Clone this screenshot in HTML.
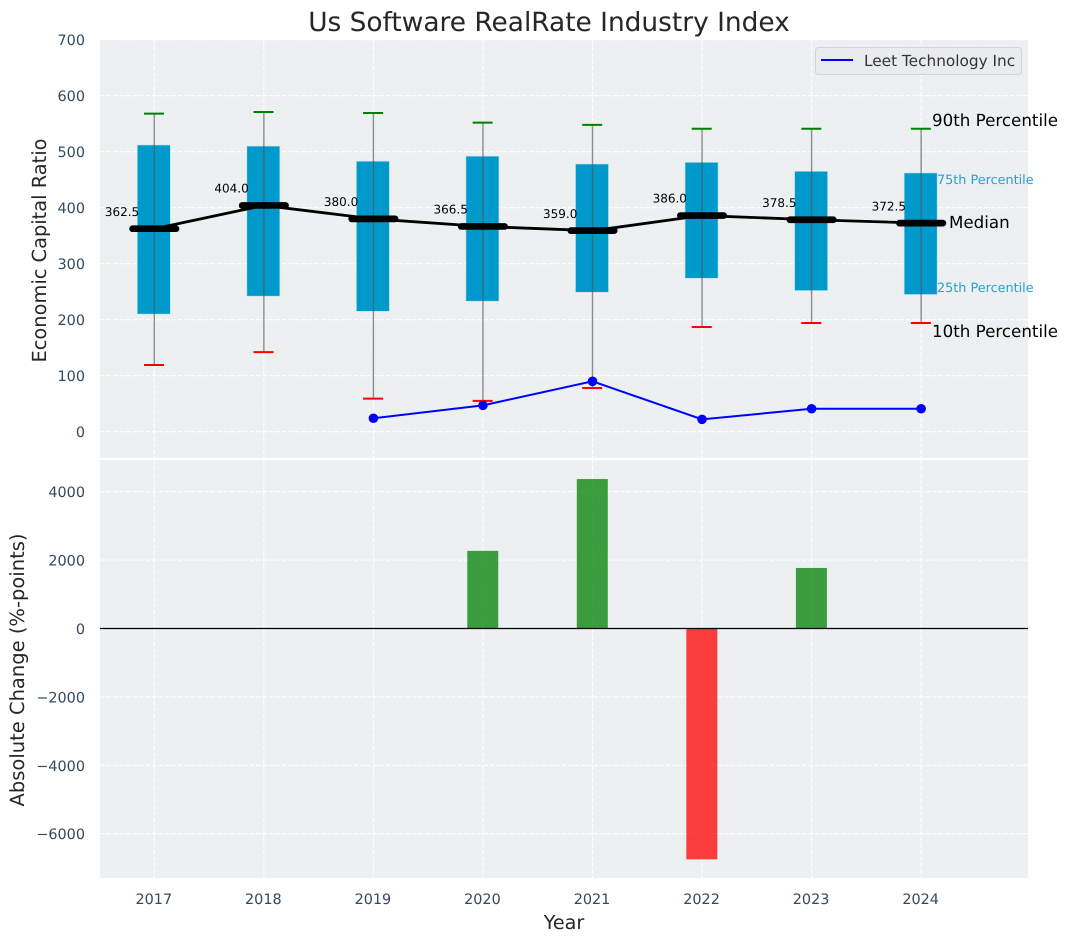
<!DOCTYPE html>
<html>
<head>
<meta charset="utf-8">
<style>
html,body{margin:0;padding:0;background:#fff;width:1067px;height:942px;overflow:hidden}
svg{display:block;font-family:"DejaVu Sans","Liberation Sans",sans-serif;text-rendering:geometricPrecision}
</style>
</head>
<body>
<svg id="chart" width="1067" height="942" viewBox="0 0 1067 942" xmlns="http://www.w3.org/2000/svg">
  <rect x="100" y="40" width="928" height="418" fill="#ecf0f1"/>
  <rect x="100" y="460" width="928" height="418" fill="#ecf0f1"/>
  <g id="grid"></g>
  <g id="bars"></g>
  <g id="boxes"></g>
  <g id="company"></g>
  <g id="medians"></g>
  <g id="ticks"></g>
  <text x="549" y="31" font-size="26.4" text-anchor="middle" fill="#262626">Us Software RealRate Industry Index</text>
  <text transform="translate(46 250.5) rotate(-90)" font-size="19.4" text-anchor="middle" fill="#262626">Economic Capital Ratio</text>
  <text transform="translate(24 670) rotate(-90)" font-size="19.5" text-anchor="middle" fill="#262626">Absolute Change (%-points)</text>
  <text x="564" y="929" font-size="19.2" text-anchor="middle" fill="#262626">Year</text>
  <g>
    <rect x="815.5" y="47.5" width="206" height="27" rx="3" fill="#e9ebef" stroke="#d2d4d8"/>
    <line x1="821" y1="60" x2="853" y2="60" stroke="#0000ff" stroke-width="2"/>
    <text x="864" y="66" font-size="15.3" fill="#333">Leet Technology Inc</text>
  </g>
  <g>
    <text x="932" y="126" font-size="16.7" fill="#000">90th Percentile</text>
    <text x="937" y="184" font-size="12.8" fill="#2a9fd0">75th Percentile</text>
    <text x="949" y="228" font-size="16.7" fill="#000">Median</text>
    <text x="937" y="292" font-size="12.8" fill="#2a9fd0">25th Percentile</text>
    <text x="932" y="337" font-size="16.7" fill="#000">10th Percentile</text>
  </g>
</svg>
<script>
const years = [2017, 2018, 2019, 2020, 2021, 2022, 2023, 2024];
const p90 = [568, 571, 569, 552, 548, 541, 541, 541];
const p75 = [512, 510, 483, 492, 478, 481, 465, 462];
const medianValues = [362.5, 404.0, 380.0, 366.5, 359.0, 386.0, 378.5, 372.5];
const p25 = [210, 242, 215, 233, 249, 274, 252, 245];
const p10 = [119, 142, 59, 55, 78, 187, 194, 194];
const companyYears = [2019, 2020, 2021, 2022, 2023, 2024];
const companyValues = [24, 47, 90, 22, 41, 41];
const changeYears = [2020, 2021, 2022, 2023];
const changeValues = [2270, 4370, -6750, 1770];
const topTicks = [0, 100, 200, 300, 400, 500, 600, 700];
const bottomTicks = [-6000, -4000, -2000, 0, 2000, 4000];

const xS = v => 154.3 + (v - 2017) * 109.55;
const yTop = v => 431.7 - v * 0.56;
const yBot = v => 628.5 - v * 0.0342;
const NS = 'http://www.w3.org/2000/svg';
function mk(parent, tag, attrs, text) {
  const el = document.createElementNS(NS, tag);
  for (const k in attrs) el.setAttribute(k, attrs[k]);
  if (text !== undefined) el.textContent = text;
  parent.appendChild(el);
  return el;
}
const grid = document.getElementById('grid');
const ticks = document.getElementById('ticks');
const bars = document.getElementById('bars');
const boxes = document.getElementById('boxes');
const company = document.getElementById('company');
const medians = document.getElementById('medians');
const dash = {stroke: '#fff', 'stroke-width': 1.1, 'stroke-dasharray': '4.5 2', opacity: 1};

years.forEach(y => {
  const x = xS(y);
  const a = mk(grid, 'line', {x1: x, x2: x, y1: 40, y2: 458, ...dash});
  
  
  const b = mk(grid, 'line', {x1: x, x2: x, y1: 460, y2: 878, ...dash});
  
  
  const t = mk(ticks, 'text', {x: x - 0.5, y: 904, 'font-size': 14.4, 'text-anchor': 'middle', fill: '#34495e'}, String(y));
  
  
});
topTicks.forEach(v => {
  const y = yTop(v);
  const g = mk(grid, 'line', {x1: 100, x2: 1028, y1: y, y2: y, ...dash});
  
  
  const t = mk(ticks, 'text', {x: 85, y: y + 5.5, 'font-size': 14.4, 'text-anchor': 'end', fill: '#34495e'}, String(v));
  
  
});
bottomTicks.forEach(v => {
  const y = yBot(v);
  const g = mk(grid, 'line', {x1: 100, x2: 1028, y1: y, y2: y, ...dash});
  
  
  const label = v < 0 ? '\u2212' + Math.abs(v) : String(v);
  const t = mk(ticks, 'text', {x: 85, y: y + 5.5, 'font-size': 14.4, 'text-anchor': 'end', fill: '#34495e'}, label);
  
  
});

changeValues.forEach((v, i) => {
  const x = xS(changeYears[i]);
  const y0 = yBot(0), y1 = yBot(v);
  const r = mk(bars, 'rect', {x: x - 15.7, y: Math.min(y0, y1), width: 31, height: Math.abs(y1 - y0), fill: v >= 0 ? '#008000' : '#ff0000', 'fill-opacity': 0.75});
  
  
});
const zero = mk(bars, 'line', {x1: 100, x2: 1028, y1: yBot(0), y2: yBot(0), stroke: '#000', 'stroke-width': 1.2});



years.forEach((y, i) => {
  const x = xS(y);
  const box = mk(boxes, 'rect', {x: x - 17, y: yTop(p75[i]), width: 33, height: yTop(p25[i]) - yTop(p75[i]), fill: '#0099cc', stroke: '#bfe3ee', 'stroke-width': 0.6});
  
  
  const w = mk(boxes, 'line', {x1: x, x2: x, y1: yTop(p90[i]), y2: yTop(p10[i]), stroke: '#555', 'stroke-opacity': 0.65, 'stroke-width': 1.4});
  
  
  const hi = mk(boxes, 'line', {x1: x - 10.3, x2: x + 9.7, y1: yTop(p90[i]), y2: yTop(p90[i]), stroke: '#008000', 'stroke-width': 2});
  
  
  const lo = mk(boxes, 'line', {x1: x - 10.3, x2: x + 9.7, y1: yTop(p10[i]), y2: yTop(p10[i]), stroke: '#ff0000', 'stroke-width': 2});
  
  
});

const cl = mk(company, 'polyline', {points: companyValues.map((v, i) => xS(companyYears[i]) + ',' + yTop(v)).join(' '), fill: 'none', stroke: '#0000ff', 'stroke-width': 2});


companyValues.forEach((v, i) => {
  const c = mk(company, 'circle', {cx: xS(companyYears[i]), cy: yTop(v), r: 4.8, fill: '#0000ff'});
  
  
});

const ml = mk(medians, 'polyline', {points: medianValues.map((v, i) => xS(years[i]) + ',' + yTop(v)).join(' '), fill: 'none', stroke: '#000', 'stroke-width': 2.8});


medianValues.forEach((v, i) => {
  const x = xS(years[i]), y = yTop(v);
  const s = mk(medians, 'line', {x1: x - 21.7, x2: x + 21.7, y1: y, y2: y, stroke: '#000', 'stroke-width': 6.7, 'stroke-linecap': 'round'});
  
  
  const t = mk(medians, 'text', {x: x - 32.3, y: y - 12.8, 'font-size': 12, 'text-anchor': 'middle', fill: '#000'}, v.toFixed(1));
  
  
});
</script>
</body>
</html>
